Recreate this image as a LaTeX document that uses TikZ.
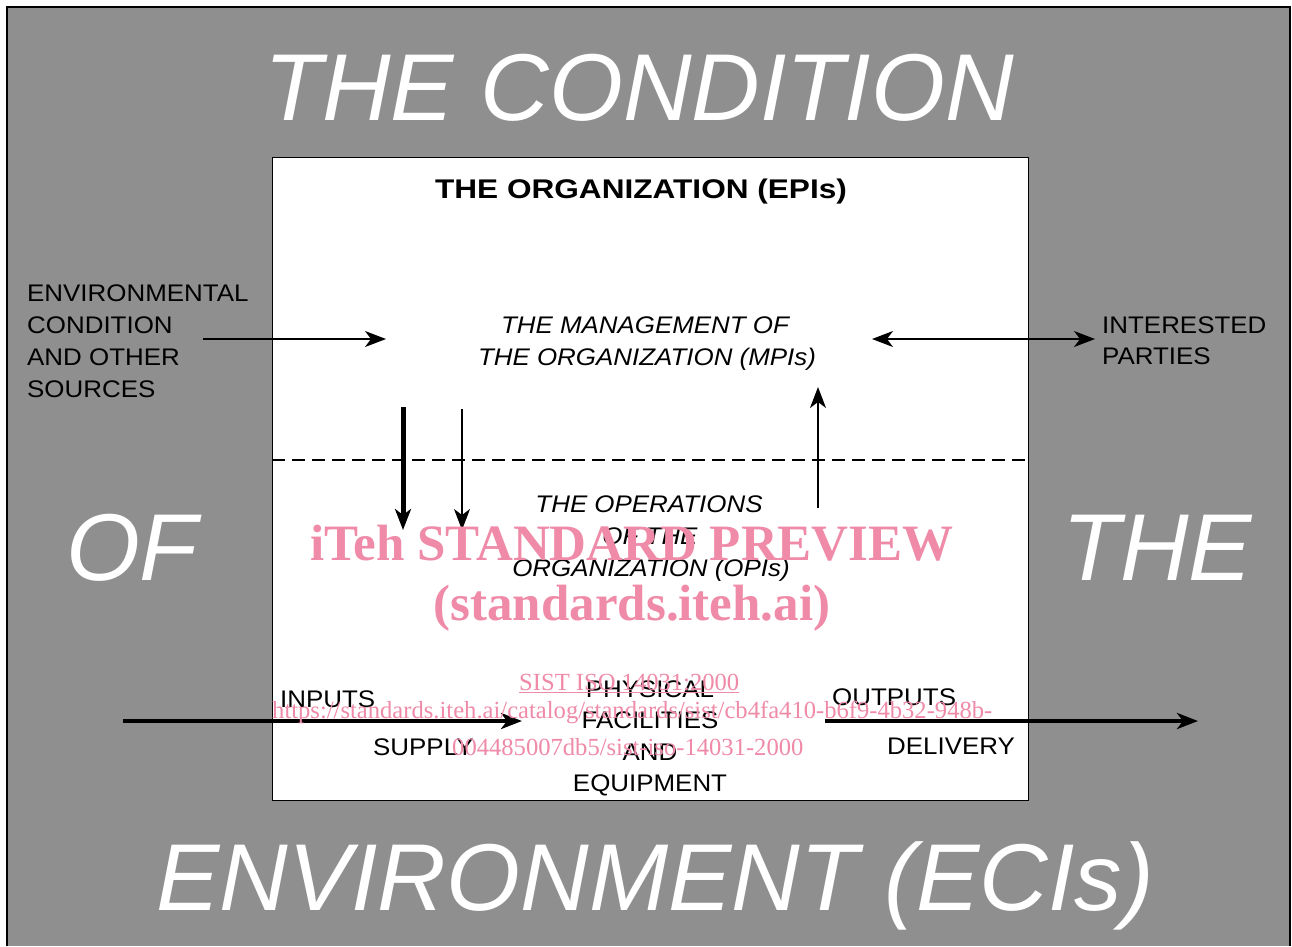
\documentclass[tikz,border=0pt]{standalone}
\usepackage{fontspec}
\setmainfont{Liberation Sans}
\newfontfamily\stsans[FakeStretch=1.08]{Liberation Sans}
\newfontfamily\ttlsans[FakeStretch=1.17]{Liberation Sans}
\newfontfamily\tms{Liberation Serif}
\usetikzlibrary{arrows.meta}
\definecolor{wm}{RGB}{239,138,168}
\definecolor{bggray}{gray}{0.56}
\begin{document}
\begin{tikzpicture}[x=1pt,y=-1pt,
  >={Stealth[length=21pt,width=16pt,inset=6pt]},
  lbl/.style={font=\stsans\fontsize{24}{30}\selectfont, inner sep=0pt, text=black},
  ilbl/.style={font=\stsans\itshape\fontsize{24}{30}\selectfont, inner sep=0pt, text=black},
  big/.style={font=\itshape\fontsize{95}{100}\selectfont, inner sep=0pt, text=white},
  wmbig/.style={font=\tms\bfseries\fontsize{51}{55}\selectfont, inner sep=0pt, text=wm},
  wmsmall/.style={font=\tms\fontsize{24.6}{28}\selectfont, inner sep=0pt, text=wm},
  thinarr/.style={->, line width=1.5pt},
  dblarr/.style={<->, line width=1.5pt},
  thickarr/.style={->, line width=4.5pt},
  heavyarr/.style={->, line width=5pt}]
\useasboundingbox (0,0) rectangle (1292,946);
% background
\fill[bggray] (7,7) rectangle (1290,946);
\draw[line width=2pt] (7,946) -- (7,7) -- (1290,7) -- (1290,946);
% big white words
\node[big, anchor=base] (bigA) at (639,120) {THE CONDITION};
\node[big, anchor=base] (bigB) at (132,580) {OF};
\node[big, anchor=base] (bigC) at (1157,580) {THE};
\node[big, anchor=base] (bigD) at (655,910) {ENVIRONMENT (ECIs)};
% organization box
\node[draw, fill=white, line width=1.2pt, anchor=north west, inner sep=0pt,
      minimum width=756pt, minimum height=643pt] (org) at (272,157) {};
\coordinate (dl) at (272,460);
\coordinate (dr) at (1028,460);
\draw[line width=1.3pt, dash pattern=on 13pt off 7pt] (dl) -- (dr);
% title
\node[inner sep=0pt, font=\ttlsans\bfseries\fontsize{27}{30}\selectfont, anchor=base] (title) at (641,198) {THE ORGANIZATION (EPIs)};
% left text
\node[lbl, anchor=base west] (env1) at (27,301) {ENVIRONMENTAL};
\node[lbl, anchor=base west] (env2) at (27,333) {CONDITION};
\node[lbl, anchor=base west] (env3) at (27,365) {AND OTHER};
\node[lbl, anchor=base west] (env4) at (27,397) {SOURCES};
% management
\node[ilbl, anchor=base] (mpi1) at (645,333) {THE MANAGEMENT OF};
\node[ilbl, anchor=base] (mpi2) at (647,365) {THE ORGANIZATION (MPIs)};
% interested parties
\node[lbl, anchor=base west] (ip1) at (1102,333) {INTERESTED};
\node[lbl, anchor=base west] (ip2) at (1102,364) {PARTIES};
% operations
\node[ilbl, anchor=base] (opi1) at (649,512) {THE OPERATIONS};
\node[ilbl, anchor=base] (opi2) at (650,544) {OF THE};
\node[ilbl, anchor=base] (opi3) at (651,576) {ORGANIZATION (OPIs)};
% bottom texts
\node[lbl, anchor=base west] (inp) at (280,707) {INPUTS};
\node[lbl, anchor=base west] (sup) at (373,755) {SUPPLY};
\node[lbl, anchor=base] (ph1) at (650,697) {PHYSICAL};
\node[lbl, anchor=base] (ph2) at (650,728) {FACILITIES};
\node[lbl, anchor=base] (ph3) at (650,760) {AND};
\node[lbl, anchor=base] (ph4) at (650,791) {EQUIPMENT};
\node[lbl, anchor=base west] (outp) at (832,705) {OUTPUTS};
\node[lbl, anchor=base west] (del) at (887,754) {DELIVERY};
% arrow end points
\coordinate (envS) at (203,339);
\coordinate (envE) at (386,339);
\coordinate (ipL) at (872,339);
\coordinate (ipR) at (1095,339);
\coordinate (hdS) at (403,407);
\coordinate (hdE) at (403,530);
\coordinate (tdS) at (462,409);
\coordinate (tdE) at (462,530);
\coordinate (upS) at (818,508);
\coordinate (upE) at (818,387);
\coordinate (inS) at (123,721);
\coordinate (inE) at (522,721);
\coordinate (ouS) at (825,721);
\coordinate (ouE) at (1198,721);
% arrows
\draw[thinarr] (envS) -- (envE);
\draw[dblarr] (ipL) -- (ipR);
\draw[heavyarr] (hdS) -- (hdE);
\draw[thinarr] (tdS) -- (tdE);
\draw[thinarr] (upS) -- (upE);
\draw[thickarr] (inS) -- (inE);
\draw[thickarr] (ouS) -- (ouE);
% watermark
\node[wmbig, anchor=base] (wm1) at (632,560) {iTeh STANDARD PREVIEW};
\node[wmbig, anchor=base] (wm2) at (632,620) {(standards.iteh.ai)};
\node[wmsmall, anchor=base west] (wm3) at (519,690) {\underline{SIST ISO 14031:2000}};
\node[wmsmall, anchor=base west] (wm4) at (272,718) {https://standards.iteh.ai/catalog/standards/sist/cb4fa410-b6f9-4b32-948b-};
\node[wmsmall, anchor=base west] (wm5) at (452,755) {004485007db5/sist-iso-14031-2000};
\end{tikzpicture}
\end{document}
